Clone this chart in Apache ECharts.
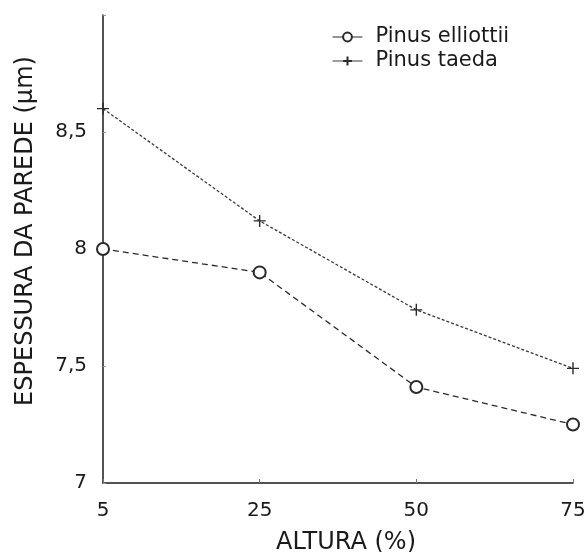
<!DOCTYPE html>
<html>
<head>
<meta charset="utf-8">
<script src="https://cdn.jsdelivr.net/npm/echarts@6/dist/echarts.min.js"></script>
<style>
  html, body { margin: 0; padding: 0; background: #fff; }
  #chart { width: 587px; height: 552px; }
</style>
</head>
<body>
<div id="chart"></div>
<script>
// Wall thickness along stem height for two pine species
const alturas = ['5', '25', '50', '75'];
const pinusElliottii = [8.00, 7.90, 7.41, 7.25];
const pinusTaeda = [8.60, 8.12, 7.74, 7.49];
const yTicks = [7, 7.5, 8, 8.5];

const ink = '#1a1a1a';
const font = 'DejaVu Sans';
const plusSymbol = 'path://M0,6L12,6M6,0L6,12';

const chart = echarts.init(document.getElementById('chart'), null, { renderer: 'canvas' });

chart.setOption({
  backgroundColor: '#ffffff',
  animation: false,
  grid: { left: 103, right: 14, top: 15, bottom: 69, containLabel: false, outerBoundsMode: 'none' },
  legend: {
    orient: 'vertical',
    left: 327,
    top: 21,
    itemWidth: 30,
    itemHeight: 11,
    itemGap: 2,
    lineStyle: { type: 'solid', width: 1 },
    textStyle: { fontFamily: font, fontSize: 21, color: ink, lineHeight: 22, padding: [0, 0, 0, 8] },
    data: ['Pinus elliottii', 'Pinus taeda']
  },
  xAxis: {
    type: 'category',
    data: alturas,
    boundaryGap: false,
    name: 'ALTURA (%)',
    nameLocation: 'middle',
    nameGap: 48,
    nameTextStyle: { fontFamily: font, fontSize: 24, color: ink, padding: [0, 0, 0, 16] },
    axisLine: { lineStyle: { color: ink, width: 1.5 } },
    axisTick: { show: true, inside: true, length: 4, lineStyle: { color: '#777' } },
    axisLabel: { fontFamily: font, fontSize: 20, color: ink, margin: 18 },
    splitLine: { show: false }
  },
  yAxis: {
    type: 'value',
    min: 7,
    max: 9,
    interval: 0.5,
    name: 'ESPESSURA DA PAREDE (μm)',
    nameLocation: 'middle',
    nameGap: 65,
    nameTextStyle: { fontFamily: font, fontSize: 24, color: ink, padding: [0, 0, 0, 36] },
    axisLine: { show: true, lineStyle: { color: ink, width: 1.5 } },
    axisTick: { show: true, inside: true, length: 3, lineStyle: { color: '#999' } },
    axisLabel: {
      fontFamily: font, fontSize: 20, color: ink, margin: 16,
      formatter: function (v) {
        return yTicks.indexOf(v) >= 0 ? String(v).replace('.', ',') : '';
      }
    },
    splitLine: { show: false }
  },
  series: [
    {
      name: 'Pinus elliottii',
      type: 'line',
      data: pinusElliottii,
      symbol: 'emptyCircle',
      symbolSize: 12,
      showAllSymbol: true,
      lineStyle: { color: '#2a2a2a', width: 1.3, type: [6, 4] },
      itemStyle: { color: '#2a2a2a', borderColor: '#2a2a2a', borderWidth: 1.2 }
    },
    {
      name: 'Pinus taeda',
      type: 'line',
      data: pinusTaeda,
      symbol: plusSymbol,
      symbolSize: 12,
      showAllSymbol: true,
      lineStyle: { color: '#3a3a3a', width: 1.3, type: [3, 2] },
      itemStyle: { color: '#2a2a2a', borderColor: '#2a2a2a', borderWidth: 1.4 }
    }
  ]
});
</script>
</body>
</html>
